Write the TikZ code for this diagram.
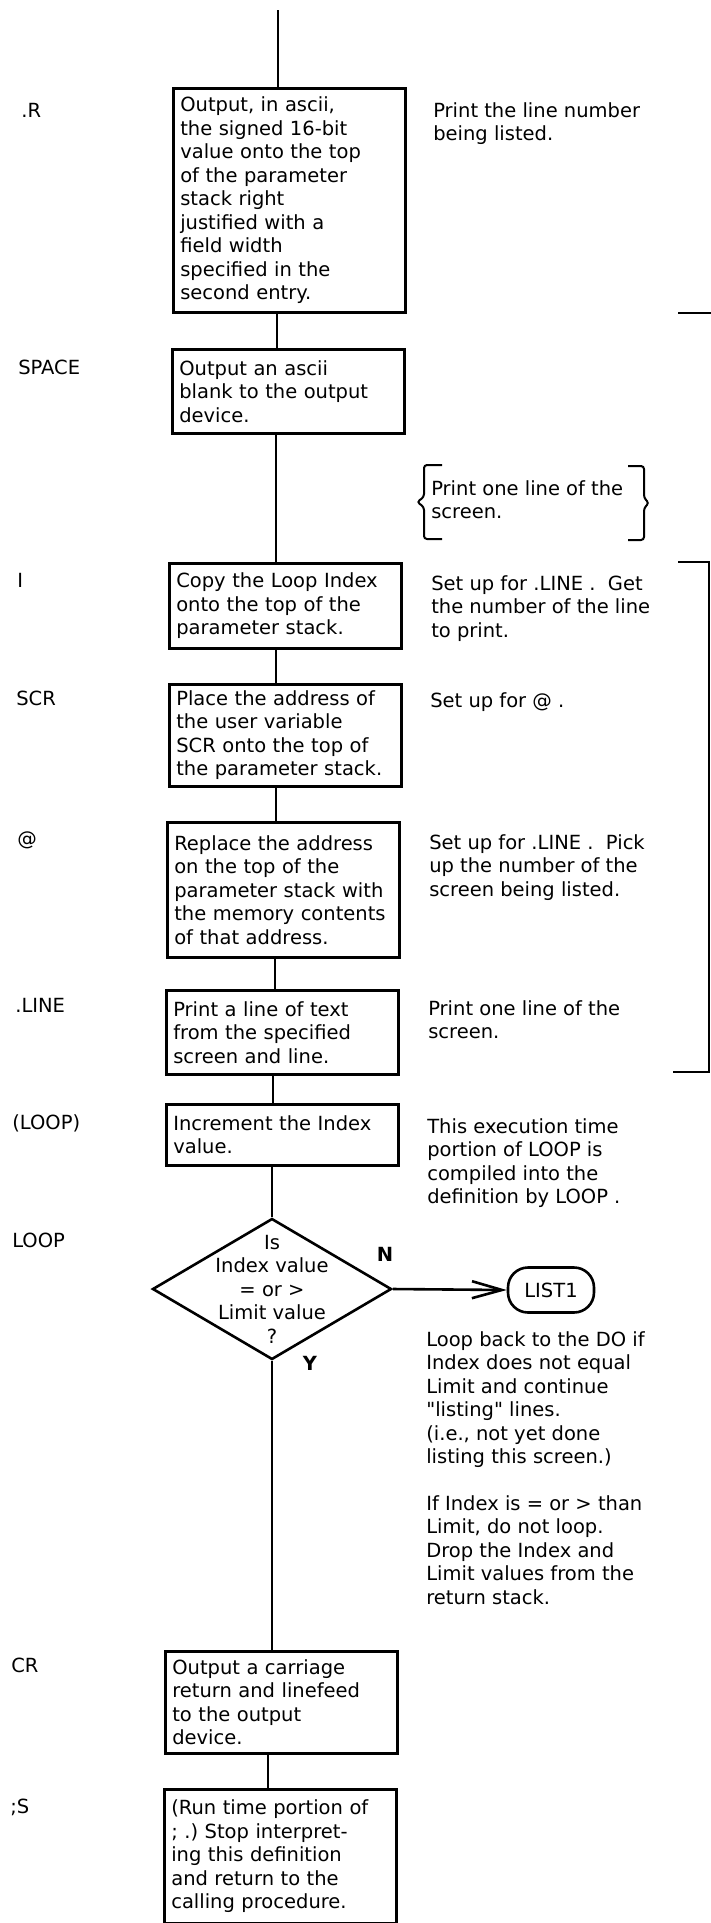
\documentclass[tikz,border=0pt]{standalone}
\usepackage{fontspec}
\newfontfamily\listfont{DejaVu Sans}
\usetikzlibrary{arrows.meta, shapes.geometric}
\frenchspacing

\begin{document}
\begin{tikzpicture}[x=1pt, y=-1pt, line width=2.6pt,
  >={Straight Barb[length=30pt, width=17pt]},
  every node/.style={font=\listfont\fontsize{19.5}{23.5}\selectfont},
  box/.style={draw, anchor=north west, align=left, text width=218pt, inner xsep=7pt, inner ysep=3pt},
  note/.style={anchor=north west, align=left, inner sep=0pt},
  word/.style={anchor=west, inner sep=0pt},
  dia/.style={diamond, draw, minimum width=239pt, minimum height=141pt, inner sep=0pt}]
  \useasboundingbox (0,0) rectangle (711,1923);

  \coordinate (entry) at (278,10);
  \node[box, minimum height=224pt] (rbox) at (172,87) {Output, in ascii,\\the signed 16-bit\\value onto the top\\of the parameter\\stack right\\justified with a\\field width\\specified in the\\second entry.};
  \node[box, minimum height=84pt] (spbox) at (171,348) {Output an ascii\\blank to the output\\device.};
  \node[box, minimum height=85pt] (ibox) at (168,562) {Copy the Loop Index\\onto the top of the\\parameter stack.};
  \node[box, minimum height=102pt] (scrbox) at (168,683) {Place the address of\\the user variable\\SCR onto the top of\\the parameter stack.};
  \node[box, minimum height=135pt] (atbox) at (166,821) {Replace the address\\on the top of the\\parameter stack with\\the memory contents\\of that address.};
  \node[box, minimum height=84pt] (linebox) at (165,989) {Print a line of text\\from the specified\\screen and line.};
  \node[box, minimum height=61pt] (loopbox) at (165,1103) {Increment the Index\\value.};
  \node[dia, label={[align=center]center:{Is\\Index value\\= or >\\Limit value\\?}}] (test) at (272,1289) {};
  \node[draw, rounded corners=20pt, minimum width=86pt, minimum height=45pt, inner sep=0pt] (list1) at (551,1290) {LIST1};
  \node[box, minimum height=102pt] (crbox) at (164,1650) {Output a carriage\\return and linefeed\\to the output\\device.};
  \node[box, minimum height=134pt] (semibox) at (163,1788) {(Run time portion of\\; .) Stop interpret-\\ing this definition\\and return to the\\calling procedure.};

  \node[word] (rlab) at (20,110) {.R};
  \node[word] (splab) at (17,367) {SPACE};
  \node[word] (ilab) at (16,580) {I};
  \node[word] (scrlab) at (15,698) {SCR};
  \node[word] (atlab) at (16,840) {@};
  \node[word] (linelab) at (14,1005) {.LINE};
  \node[word] (plooplab) at (11,1123) {(LOOP)};
  \node[word] (looplab) at (11,1240) {LOOP};
  \node[word] (crlab) at (10,1665) {CR};
  \node[word] (semilab) at (9,1807) {;S};

  \node[note] (rnote) at (432,101) {Print the line number\\being listed.};
  \node[note] (pnote) at (430,479) {Print one line of the\\screen.};
  \node[note] (inote) at (430,574) {Set up for .LINE .\ \ Get\\the number of the line\\to print.};
  \node[note] (scrnote) at (429,691) {Set up for @ .};
  \node[note] (atnote) at (428,833) {Set up for .LINE .\ \ Pick\\up the number of the\\screen being listed.};
  \node[note] (linenote) at (427,999) {Print one line of the\\screen.};
  \node[note] (loopnote) at (426,1117) {This execution time\\portion of LOOP is\\compiled into the\\definition by LOOP .};
  \node[note] (backnote) at (425,1330) {Loop back to the DO if\\Index does not equal\\Limit and continue\\"listing" lines.\\(i.e., not yet done\\listing this screen.)};
  \node[note] (exitnote) at (425,1494) {If Index is = or > than\\Limit, do not loop.\\Drop the Index and\\Limit values from the\\return stack.};
  \node (nlab) at (385,1254) {\bfseries N};
  \node (ylab) at (310,1363) {\bfseries Y};

  \draw (entry) -- (entry |- rbox.north);
  \draw (rbox.south -| 277,0) -- (spbox.north -| 277,0);
  \draw (spbox.south -| 276,0) -- (ibox.north -| 276,0);
  \draw (ibox.south -| 276,0) -- (scrbox.north -| 276,0);
  \draw (scrbox.south -| 276,0) -- (atbox.north -| 276,0);
  \draw (atbox.south -| 275,0) -- (linebox.north -| 275,0);
  \draw (linebox.south -| 273,0) -- (loopbox.north -| 273,0);
  \draw (loopbox.south -| test.north) -- (test.north);
  \draw[->] (test.east) -- (list1.west);
  \draw (test.south) -- (test.south |- crbox.north);
  \draw (crbox.south -| 268,0) -- (semibox.north -| 268,0);

  \draw[line width=2pt, rounded corners=3pt] (442,465) -- (424,465) -- (424,497) -- (417,502) -- (424,507) -- (424,539) -- (442,539);
  \draw[line width=2pt, rounded corners=3pt] (628,466) -- (644,466) -- (644,498) -- (649,503) -- (644,508) -- (644,540) -- (628,540);
  \draw (678,562) -- (709,562) -- (709,1072) -- (673,1072);
  \draw (678,313) -- (711,313);
\end{tikzpicture}
\end{document}
